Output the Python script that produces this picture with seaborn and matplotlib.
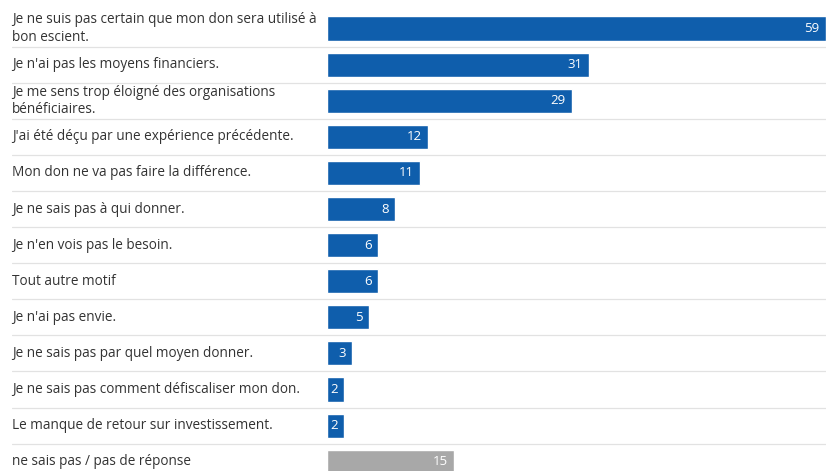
import matplotlib
matplotlib.use("Agg")
import matplotlib.pyplot as plt
import matplotlib.transforms as mtransforms
import seaborn as sns
import pandas as pd

labels = [
    "Je ne suis pas certain que mon don sera utilisé à\nbon escient.",
    "Je n'ai pas les moyens financiers.",
    "Je me sens trop éloigné des organisations\nbénéficiaires.",
    "J'ai été déçu par une expérience précédente.",
    "Mon don ne va pas faire la différence.",
    "Je ne sais pas à qui donner.",
    "Je n'en vois pas le besoin.",
    "Tout autre motif",
    "Je n'ai pas envie.",
    "Je ne sais pas par quel moyen donner.",
    "Je ne sais pas comment défiscaliser mon don.",
    "Le manque de retour sur investissement.",
    "ne sais pas / pas de réponse",
]
values = [59, 31, 29, 12, 11, 8, 6, 6, 5, 3, 2, 2, 15]
groups = ["motif"] * 12 + ["nsp"]

BLUE = "#0f5eac"
GREY = "#a8a8a8"

df = pd.DataFrame({"label": labels, "value": values, "group": groups})

sns.set_theme(style="white")
plt.rcParams["font.family"] = ["Open Sans", "DejaVu Sans"]

W, H = 840, 471
fig = plt.figure(figsize=(W / 100, H / 100), dpi=100)
fig.patch.set_facecolor("white")

# axes spans from the label column to the right end of the longest bar
left_px, right_px, zero_px = 12, 826, 327
ax = fig.add_axes([left_px / W, 0, (right_px - left_px) / W, 1])

sns.barplot(
    data=df, x="value", y="label", hue="group",
    palette={"motif": BLUE, "nsp": GREY},
    order=labels, orient="h", width=0.67, dodge=False,
    legend=False, ax=ax, saturation=1,
)

k = (right_px - zero_px) / max(values)
ax.set_xlim(-(zero_px - left_px) / k, (right_px - zero_px) / k)
row = 36.1
first = 28.5
ax.set_ylim((H - first) / row, -first / row)

for s in ax.spines.values():
    s.set_visible(False)
ax.set_xticks([])
ax.set_yticks([])
ax.set_xlabel("")
ax.set_ylabel("")

# row separators
for i in range(len(labels) - 1):
    ax.axhline(i + 0.5, color="#e2e2e2", lw=0.9, zorder=0)

# category labels in the left column
trans = mtransforms.blended_transform_factory(ax.transAxes, ax.transData)
for i, lab in enumerate(labels):
    ax.text(0, i, lab, transform=trans, ha="left", va="center",
            fontsize=9.8, color="#333333", linespacing=1.2)

# value labels inside the bar ends
for i, v in enumerate(values):
    ax.annotate(str(v), xy=(v, i), xytext=(-4.5, 0), textcoords="offset points",
                ha="right", va="center", fontsize=9.5, color="white")

fig.savefig("out.png", dpi=100, facecolor="white")
